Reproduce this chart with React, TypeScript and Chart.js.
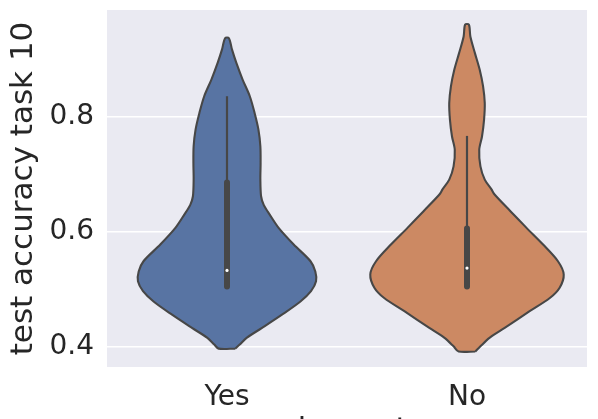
import React, { useEffect, useRef } from 'react';
import { Chart, registerables } from 'chart.js';

Chart.register(...registerables);

// ---- data ----
const categories = ['Yes', 'No'];
const yTickValues = [0.4, 0.6, 0.8];

// violin outline: y levels and half-widths (in category units)
const yesLevels = [0.397, 0.404, 0.416, 0.433, 0.456, 0.479, 0.497, 0.514, 0.531, 0.549, 0.578, 0.607, 0.63, 0.647, 0.662, 0.691, 0.72, 0.749, 0.778, 0.807, 0.836, 0.865, 0.894, 0.917, 0.937];
const yesHalfWidths = [0.035, 0.053, 0.083, 0.146, 0.229, 0.306, 0.35, 0.371, 0.368, 0.348, 0.278, 0.215, 0.178, 0.153, 0.142, 0.139, 0.14, 0.139, 0.131, 0.115, 0.095, 0.065, 0.039, 0.021, 0.008];

const noLevels = [0.392, 0.401, 0.416, 0.433, 0.462, 0.485, 0.503, 0.526, 0.549, 0.578, 0.607, 0.636, 0.665, 0.674, 0.691, 0.714, 0.743, 0.766, 0.795, 0.824, 0.853, 0.882, 0.911, 0.94, 0.9605];
const noHalfWidths = [0.035, 0.056, 0.095, 0.157, 0.261, 0.345, 0.386, 0.403, 0.379, 0.317, 0.248, 0.181, 0.115, 0.102, 0.074, 0.056, 0.051, 0.0625, 0.071, 0.074, 0.067, 0.053, 0.033, 0.014, 0.008];

// inner box plot statistics, one per category
const whiskerLow = [0.503, 0.503];
const quartile1 = [0.505, 0.505];
const medians = [0.533, 0.537];
const quartile3 = [0.686, 0.606];
const whiskerHigh = [0.836, 0.767];

const fillColors = ['#5874a3', '#cc8963'];
const lineColor = '#474747';
const textColor = '#262626';

function outline(center: number, levels: number[], hws: number[]) {
  const right = levels.map((y, i) => ({ x: center + hws[i], y }));
  const left = levels.map((y, i) => ({ x: center - hws[i], y })).reverse();
  return [...right, ...left, right[0]];
}

const bgPlugin = {
  id: 'plotBg',
  beforeDraw(chart: any) {
    const { ctx, chartArea } = chart;
    ctx.save();
    ctx.fillStyle = '#eaeaf2';
    ctx.fillRect(chartArea.left, chartArea.top, chartArea.right - chartArea.left, chartArea.bottom - chartArea.top);
    ctx.restore();
  },
};

export default function App() {
  const ref = useRef<HTMLCanvasElement | null>(null);

  useEffect(() => {
    if (!ref.current) return;
    const violinData = [outline(0, yesLevels, yesHalfWidths), outline(1, noLevels, noHalfWidths)];
    const datasets: any[] = [];
    violinData.forEach((pts, i) => {
      datasets.push({
        data: pts,
        borderColor: lineColor,
        borderWidth: 2.1,
        backgroundColor: fillColors[i],
        fill: 'shape',
        pointRadius: 0,
        tension: 0.3,
        order: 3,
      });
    });
    categories.forEach((_, i) => {
      datasets.push({
        data: [{ x: i, y: whiskerLow[i] }, { x: i, y: whiskerHigh[i] }],
        borderColor: lineColor,
        borderWidth: 2.2,
        pointRadius: 0,
        fill: false,
        order: 2,
      });
      datasets.push({
        data: [{ x: i, y: quartile1[i] }, { x: i, y: quartile3[i] }],
        borderColor: lineColor,
        borderWidth: 6,
        borderCapStyle: 'round',
        pointRadius: 0,
        fill: false,
        order: 1,
      });
      datasets.push({
        data: [{ x: i, y: medians[i] }],
        showLine: false,
        pointRadius: 1.6,
        pointBorderWidth: 0,
        pointBackgroundColor: '#ffffff',
        borderColor: '#ffffff',
        fill: false,
        order: 0,
      });
    });

    const chart = new Chart(ref.current, {
      type: 'line',
      data: { datasets },
      plugins: [bgPlugin],
      options: {
        animation: false,
        responsive: false,
        font: { family: 'DejaVu Sans' },
        layout: { padding: { top: 10, right: 11, left: 0, bottom: 0 } },
        plugins: { legend: { display: false }, tooltip: { enabled: false } },
        scales: {
          x: {
            type: 'linear',
            min: -0.5,
            max: 1.5,
            grid: { display: false },
            border: { display: false },
            afterBuildTicks: (s: any) => {
              s.ticks = categories.map((_, i) => ({ value: i }));
            },
            afterFit: (s: any) => {
              s.height = 93;
              s.paddingLeft = 0;
              s.paddingRight = 0;
            },
            ticks: {
              callback: (v: any) => categories[Math.round(Number(v))],
              font: { family: 'DejaVu Sans', size: 28 },
              color: textColor,
              padding: 6,
              maxRotation: 0,
              autoSkip: false,
            },
            title: {
              display: true,
              text: 'dropout',
              font: { family: 'DejaVu Sans', size: 31 },
              color: textColor,
              padding: { top: 0, bottom: 10 },
            },
          },
          y: {
            type: 'linear',
            min: 0.365,
            max: 0.986,
            afterBuildTicks: (s: any) => {
              s.ticks = yTickValues.map((v) => ({ value: v }));
            },
            afterFit: (s: any) => {
              s.width = 107;
              s.paddingTop = 0;
              s.paddingBottom = 0;
            },
            grid: { color: '#ffffff', lineWidth: 1.6, drawTicks: false },
            border: { display: false },
            ticks: {
              callback: (v: any) => Number(v).toFixed(1),
              font: { family: 'DejaVu Sans', size: 28 },
              color: textColor,
              padding: 13,
            },
            title: {
              display: true,
              text: 'test accuracy task 10',
              font: { family: 'DejaVu Sans', size: 31 },
              color: textColor,
              padding: { top: 5, bottom: 0 },
            },
          },
        },
      } as any,
    });
    return () => chart.destroy();
  }, []);

  return (
    <div style={{ position: 'fixed', left: 0, top: 0, width: 598, height: 460, background: '#ffffff' }}>
      <canvas ref={ref} width={598} height={460} style={{ display: 'block' }} />
    </div>
  );
}
